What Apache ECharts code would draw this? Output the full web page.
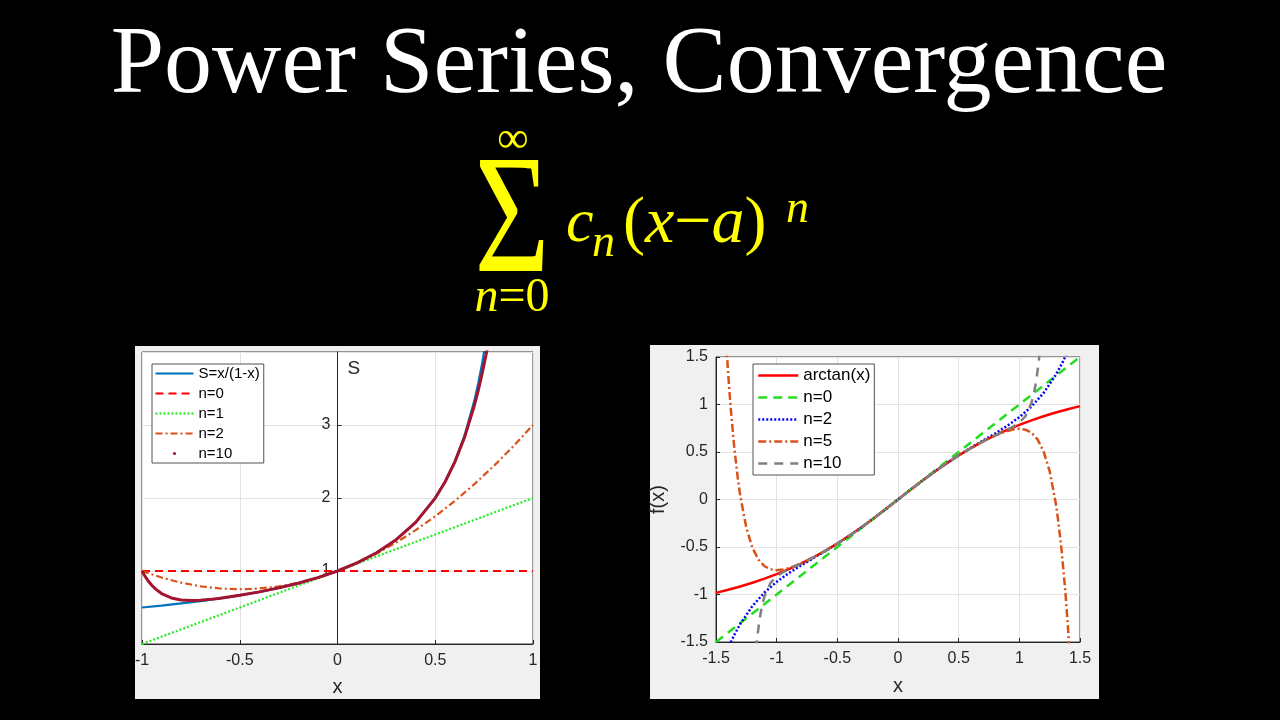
<!DOCTYPE html>
<html>
<head>
<meta charset="utf-8">
<script src="https://cdn.jsdelivr.net/npm/echarts@6/dist/echarts.min.js"></script>
<style>
html,body{margin:0;padding:0;background:#000;}
#chart{width:1280px;height:720px;}
</style>
</head>
<body>
<div id="chart"></div>
<script>
// ---------- Left panel: geometric series 1/(1-x) and partial sums ----------
const xS  = [-1,-0.9,-0.8,-0.7,-0.6,-0.5,-0.4,-0.3,-0.2,-0.1,0,0.1,0.2,0.3,0.4,0.5,0.55,0.6,0.65,0.7,0.72,0.74,0.76,0.78];
const yS  = [0.5,0.5263,0.5556,0.5882,0.625,0.6667,0.7143,0.7692,0.8333,0.9091,1,1.1111,1.25,1.4286,1.6667,2,2.2222,2.5,2.8571,3.3333,3.5714,3.8462,4.1667,4.5455];
const xL0 = [-1,1];
const yL0 = [1,1];
const xL1 = [-1,1];
const yL1 = [0,2];
const xL2 = [-1,-0.9,-0.8,-0.7,-0.6,-0.5,-0.4,-0.3,-0.2,-0.1,0,0.1,0.2,0.3,0.4,0.5,0.6,0.7,0.8,0.9,1];
const yL2 = [1,0.91,0.84,0.79,0.76,0.75,0.76,0.79,0.84,0.91,1,1.11,1.24,1.39,1.56,1.75,1.96,2.19,2.44,2.71,3];
const xL10 = [-1,-0.99,-0.98,-0.97,-0.95,-0.93,-0.9,-0.85,-0.8,-0.75,-0.7,-0.65,-0.6,-0.55,-0.5,-0.4,-0.3,-0.2,-0.1,0,0.1,0.2,0.3,0.4,0.5,0.55,0.6,0.65,0.7,0.72,0.74,0.76,0.78];
const yL10 = [1,0.9524,0.9095,0.8707,0.8045,0.7513,0.6915,0.6310,0.6033,0.5956,0.5999,0.6114,0.6273,0.6461,0.6670,0.7143,0.7692,0.8333,0.9091,1,1.1111,1.25,1.4286,1.6666,1.9990,2.2191,2.4909,2.8321,3.2674,3.4752,3.7060,3.9631,4.2499];
const leftNames = ['S=x/(1-x)','n=0','n=1','n=2','n=10'];
const leftXTicks = {min:-1, max:1, step:0.5};
const leftYTicks = {min:0, max:4, step:1};

// ---------- Right panel: arctan(x) and Taylor partial sums ----------
const xAt = [-1.5,-1.4,-1.3,-1.2,-1.1,-1,-0.9,-0.8,-0.7,-0.6,-0.5,-0.4,-0.3,-0.2,-0.1,0,0.1,0.2,0.3,0.4,0.5,0.6,0.7,0.8,0.9,1,1.1,1.2,1.3,1.4,1.5];
const yAt = [-0.9828,-0.9505,-0.9151,-0.8761,-0.8330,-0.7854,-0.7328,-0.6747,-0.6107,-0.5404,-0.4636,-0.3805,-0.2915,-0.1974,-0.0997,0,0.0997,0.1974,0.2915,0.3805,0.4636,0.5404,0.6107,0.6747,0.7328,0.7854,0.8330,0.8761,0.9151,0.9505,0.9828];
const xR0 = [-1.5,1.5];
const yR0 = [-1.5,1.5];
const xR2 = [-1.5,-1.4,-1.35,-1.3,-1.2,-1.1,-1,-0.9,-0.8,-0.7,-0.6,-0.5,-0.4,-0.3,-0.2,-0.1,0,0.1,0.2,0.3,0.4,0.5,0.6,0.7,0.8,0.9,1,1.1,1.2,1.3,1.35,1.4,1.5];
const yR2 = [-1.8938,-1.5610,-1.4267,-1.3103,-1.1217,-0.9784,-0.8667,-0.7751,-0.6949,-0.6193,-0.5436,-0.4646,-0.3807,-0.2915,-0.1974,-0.0997,0,0.0997,0.1974,0.2915,0.3807,0.4646,0.5436,0.6193,0.6949,0.7751,0.8667,0.9784,1.1217,1.3103,1.4267,1.5610,1.8938];
const xR5 = [-1.45,-1.42,-1.4,-1.38,-1.35,-1.32,-1.3,-1.25,-1.2,-1.15,-1.1,-1.05,-1,-0.95,-0.9,-0.85,-0.8,-0.75,-0.7,-0.6,-0.5,-0.4,-0.3,-0.2,-0.1,0,0.1,0.2,0.3,0.4,0.5,0.6,0.7,0.75,0.8,0.85,0.9,0.95,1,1.05,1.1,1.15,1.2,1.25,1.3,1.32,1.35,1.38,1.4,1.42,1.45];
const yR5 = [2.4769,1.7376,1.3307,0.9823,0.5535,0.2180,0.0371,-0.2976,-0.5076,-0.6332,-0.7027,-0.7353,-0.7440,-0.7375,-0.7213,-0.6988,-0.6720,-0.6423,-0.6102,-0.5403,-0.4636,-0.3805,-0.2915,-0.1974,-0.0997,0,0.0997,0.1974,0.2915,0.3805,0.4636,0.5403,0.6102,0.6423,0.6720,0.6988,0.7213,0.7375,0.7440,0.7353,0.7027,0.6332,0.5076,0.2976,-0.0371,-0.2180,-0.5535,-0.9823,-1.3307,-1.7376,-2.4769];
const xR10 = [-1.17,-1.16,-1.14,-1.12,-1.1,-1.05,-1,-0.95,-0.9,-0.8,-0.7,-0.6,-0.5,-0.4,-0.3,-0.2,-0.1,0,0.1,0.2,0.3,0.4,0.5,0.6,0.7,0.8,0.9,0.95,1,1.05,1.1,1.12,1.14,1.16,1.17];
const yR10 = [-1.5772,-1.4506,-1.2546,-1.1158,-1.0177,-0.8762,-0.8081,-0.7671,-0.7350,-0.6749,-0.6107,-0.5404,-0.4636,-0.3805,-0.2915,-0.1974,-0.0997,0,0.0997,0.1974,0.2915,0.3805,0.4636,0.5404,0.6107,0.6749,0.7350,0.7671,0.8081,0.8762,1.0177,1.1158,1.2546,1.4506,1.5772];
const rightNames = ['arctan(x)','n=0','n=2','n=5','n=10'];
const rightTicks = {min:-1.5, max:1.5, step:0.5};

const zip = (xs, ys) => xs.map((x, i) => [x, ys[i]]);
const AX = '#262626';
const GRIDC = '#e3e3e3';

function lineSeries(name, grid, xs, ys, color, width, dash, z) {
  return {
    name: name, type: 'line', xAxisIndex: grid, yAxisIndex: grid,
    data: zip(xs, ys), symbol: 'none', showSymbol: false, clip: true,
    itemStyle: {color: color},
    lineStyle: {color: color, width: width, type: dash || 'solid', cap: 'butt'},
    z: z, silent: true
  };
}

function valueAxis(grid, t, extra) {
  return Object.assign({
    type: 'value', gridIndex: grid, min: t.min, max: t.max, interval: t.step,
    axisLine: {show: true, onZero: false, lineStyle: {color: AX, width: 1}},
    axisTick: {show: true, inside: true, length: 4, lineStyle: {color: AX}},
    axisLabel: {fontSize: 16, color: AX, fontFamily: 'Liberation Sans'},
    splitLine: {show: true, lineStyle: {color: GRIDC, width: 1}},
    nameTextStyle: {fontSize: 20, color: AX, fontFamily: 'Liberation Sans'}
  }, extra);
}

const chart = echarts.init(document.getElementById('chart'), null, {renderer: 'canvas'});
const option = {
  backgroundColor: '#000',
  animation: false,
  textStyle: {fontFamily: 'Liberation Sans'},
  graphic: [
    {type: 'rect', z: -10, shape: {x: 135, y: 346, width: 405, height: 353}, style: {fill: '#f0f0f0'}},
    {type: 'rect', z: -10, shape: {x: 650, y: 345, width: 449, height: 354}, style: {fill: '#f0f0f0'}},
    {type: 'text', x: 639, y: 67, style: {text: 'Power Series, Convergence', font: '96px "Liberation Serif"', fill: '#fff', align: 'center', verticalAlign: 'middle'}},
    {type: 'text', x: 512, y: 226, scaleX: 0.76, style: {text: 'Σ', font: '170px "Liberation Serif"', fill: '#ffff00', align: 'center', verticalAlign: 'middle'}},
    {type: 'text', x: 513, y: 140, style: {text: '∞', font: '44px "Liberation Serif"', fill: '#ffff00', align: 'center', verticalAlign: 'middle'}},
    {type: 'text', x: 512, y: 298, style: {text: '{i|n}{r|=0}', fill: '#ffff00', align: 'center', verticalAlign: 'middle',
      rich: {i: {font: 'italic 48px "Liberation Serif"', fill: '#ffff00'}, r: {font: '48px "Liberation Serif"', fill: '#ffff00'}}}},
    {type: 'text', x: 566, y: 225, style: {text: 'c', font: 'italic 62px "Liberation Serif"', fill: '#ffff00', align: 'left', verticalAlign: 'middle'}},
    {type: 'text', x: 592, y: 244, style: {text: 'n', font: 'italic 46px "Liberation Serif"', fill: '#ffff00', align: 'left', verticalAlign: 'middle'}},
    {type: 'text', x: 623, y: 225, style: {text: '{r|(}{i|x}{r|−}{i|a}{r|)}', fill: '#ffff00', align: 'left', verticalAlign: 'middle',
      rich: {i: {font: 'italic 66px "Liberation Serif"', fill: '#ffff00'}, r: {font: '66px "Liberation Serif"', fill: '#ffff00'}}}},
    {type: 'text', x: 786, y: 210, style: {text: 'n', font: 'italic 46px "Liberation Serif"', fill: '#ffff00', align: 'left', verticalAlign: 'middle'}}
  ],
  grid: [
    {left: 142, top: 352, width: 391, height: 292, show: true, backgroundColor: '#fff', borderColor: '#3a3a3a', borderWidth: 1},
    {left: 716, top: 357, width: 364, height: 285, show: true, backgroundColor: '#fff', borderColor: '#3a3a3a', borderWidth: 1}
  ],
  xAxis: [
    valueAxis(0, leftXTicks, {name: 'x', nameLocation: 'middle', nameGap: 33,
      axisLabel: {fontSize: 16, color: AX, margin: 9}}),
    valueAxis(1, rightTicks, {name: 'x', nameLocation: 'middle', nameGap: 34,
      axisLabel: {fontSize: 16, color: AX, margin: 9}})
  ],
  yAxis: [
    valueAxis(0, leftYTicks, {name: 'S', nameLocation: 'end', nameGap: -26, offset: -195.5,
      axisLine: {show: true, onZero: false, lineStyle: {color: AX, width: 1}},
      axisLabel: {fontSize: 16, color: AX, margin: 7, showMinLabel: false, showMaxLabel: false},
      nameTextStyle: {fontSize: 19, color: AX, align: 'left', padding: [0, 0, 0, 10]}}),
    valueAxis(1, rightTicks, {name: 'f(x)', nameLocation: 'middle', nameGap: 48,
      axisLabel: {fontSize: 16, color: AX, margin: 8}})
  ],
  legend: [
    {orient: 'vertical', left: 152, top: 364, selectedMode: false,
      data: leftNames.map(n => n === 'n=10'
        ? {name: 'L:' + n, itemStyle: {opacity: 1}, lineStyle: {opacity: 0}}
        : {name: 'L:' + n}),
      formatter: n => n.slice(2),
      itemWidth: 38, itemHeight: 4, itemGap: 5, padding: [2, 4, 2, 2],
      backgroundColor: '#fff', borderColor: AX, borderWidth: 0.8,
      itemStyle: {opacity: 0}, lineStyle: {width: 'inherit'},
      textStyle: {fontSize: 15, color: '#000', fontFamily: 'Liberation Sans'}},
    {orient: 'vertical', left: 753, top: 364, selectedMode: false,
      data: rightNames.map(n => ({name: 'R:' + n})),
      formatter: n => n.slice(2),
      itemWidth: 40, itemHeight: 6, itemGap: 5, padding: [3, 4, 3, 4],
      backgroundColor: '#fff', borderColor: AX, borderWidth: 0.8,
      itemStyle: {opacity: 0}, lineStyle: {width: 'inherit'},
      textStyle: {fontSize: 17, color: '#000', fontFamily: 'Liberation Sans'}}
  ],
  series: [
    lineSeries('L:S=x/(1-x)', 0, xS, yS, '#0072bd', 2.2, 'solid', 2),
    lineSeries('L:n=0', 0, xL0, yL0, '#ff0000', 2.2, [8, 5], 3),
    lineSeries('L:n=1', 0, xL1, yL1, '#22ee22', 2.2, [2, 2], 4),
    lineSeries('L:n=2', 0, xL2, yL2, '#d95319', 2.2, [7, 3, 2, 3], 5),
    lineSeries('L:n=10', 0, xL10, yL10, '#a2142f', 3, 'solid', 6),
    lineSeries('R:arctan(x)', 1, xAt, yAt, '#ff0000', 2.5, 'solid', 2),
    lineSeries('R:n=0', 1, xR0, yR0, '#22dd22', 2.5, [9, 6], 3),
    lineSeries('R:n=2', 1, xR2, yR2, '#0000ff', 2.5, [2, 2], 4),
    lineSeries('R:n=5', 1, xR5, yR5, '#d95319', 2.5, [8, 3, 2, 3], 5),
    lineSeries('R:n=10', 1, xR10, yR10, '#808080', 2.5, [9, 7], 6)
  ]
};
chart.setOption(option);
</script>
</body>
</html>
